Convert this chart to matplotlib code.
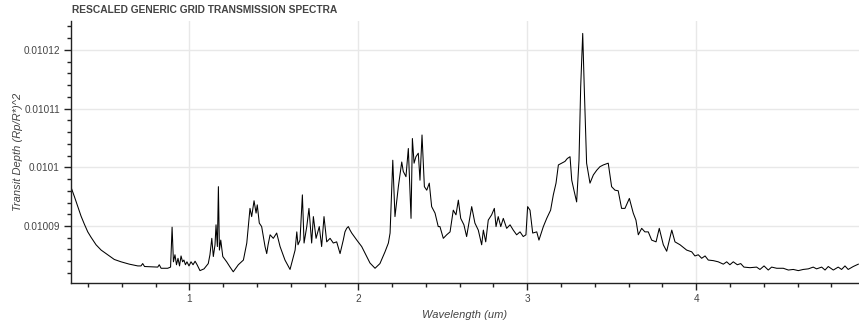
import matplotlib.pyplot as plt
from matplotlib.ticker import FixedLocator, MultipleLocator, FuncFormatter

plt.rcParams['font.family'] = ['Liberation Sans', 'DejaVu Sans']

# rescaled generic grid spectrum: wavelength (um) and transit depth (ppm)
wavelength = [
    0.300, 0.320, 0.340, 0.359, 0.379, 0.399, 0.418, 0.448, 0.478, 0.517,
    0.556, 0.596, 0.645, 0.695, 0.714, 0.724, 0.735, 0.813,
    0.822, 0.833, 0.872, 0.889, 0.898, 0.906, 0.915, 0.924, 0.933, 0.942,
    0.951, 0.960, 0.968, 0.977, 0.986, 0.998, 1.010, 1.022, 1.034, 1.046,
    1.063, 1.087, 1.112, 1.122, 1.133, 1.142, 1.152, 1.158, 1.166, 1.172,
    1.178, 1.186, 1.198, 1.221, 1.241, 1.260, 1.290, 1.320, 1.340, 1.359,
    1.369, 1.383, 1.395, 1.402, 1.414, 1.428, 1.436, 1.448, 1.458, 1.466,
    1.478, 1.497, 1.517, 1.537, 1.566, 1.596, 1.626, 1.636, 1.643, 1.655,
    1.669, 1.679, 1.695, 1.708, 1.724, 1.734, 1.750, 1.769, 1.783, 1.797,
    1.813, 1.833, 1.852, 1.872, 1.892, 1.911, 1.921, 1.931, 1.941, 1.951,
    1.961, 1.991, 2.020, 2.050, 2.069, 2.099, 2.128, 2.158, 2.178, 2.188,
    2.204, 2.217, 2.237, 2.257, 2.266, 2.282, 2.296, 2.312, 2.320, 2.330,
    2.341, 2.355, 2.365, 2.377, 2.391, 2.405, 2.420, 2.434, 2.454, 2.473,
    2.483, 2.503, 2.523, 2.543, 2.562, 2.578, 2.592, 2.606, 2.625, 2.641,
    2.671, 2.690, 2.710, 2.730, 2.740, 2.754, 2.769, 2.789, 2.805, 2.815,
    2.828, 2.843, 2.858, 2.878, 2.898, 2.917, 2.937, 2.957, 2.976, 2.992,
    3.002, 3.016, 3.032, 3.056, 3.069, 3.095, 3.115, 3.138, 3.154, 3.170,
    3.184, 3.204, 3.223, 3.237, 3.253, 3.263, 3.276, 3.292, 3.306, 3.316,
    3.328, 3.337, 3.351, 3.371, 3.391, 3.411, 3.430, 3.450, 3.479, 3.499,
    3.519, 3.538, 3.558, 3.578, 3.604, 3.627, 3.643, 3.657, 3.677, 3.696,
    3.716, 3.736, 3.762, 3.781, 3.805, 3.825, 3.855, 3.874, 3.904, 3.943,
    3.973, 3.992, 4.012, 4.032, 4.052, 4.071, 4.101, 4.130, 4.160, 4.180,
    4.199, 4.219, 4.243, 4.263, 4.282, 4.318, 4.357, 4.377, 4.401, 4.426,
    4.446, 4.476, 4.515, 4.545, 4.574, 4.604, 4.633, 4.663, 4.692, 4.712,
    4.742, 4.762, 4.781, 4.811, 4.840, 4.860, 4.880, 4.899, 4.929, 4.959,
]
depth_ppm = [
    10096.6, 10095.0, 10093.3, 10091.7, 10090.3, 10089.0, 10088.1, 10086.8, 10085.9, 10085.1,
    10084.3, 10083.9, 10083.5, 10083.2, 10083.2, 10083.6, 10083.1, 10083.0,
    10083.4, 10082.8, 10082.8, 10083.0, 10089.8, 10083.9, 10085.1, 10083.4, 10084.5, 10083.2,
    10084.9, 10083.9, 10084.2, 10083.4, 10083.9, 10083.2, 10083.9, 10083.4, 10084.0, 10083.4,
    10082.4, 10082.7, 10083.6, 10085.1, 10087.9, 10084.8, 10086.8, 10090.2, 10086.5, 10096.7,
    10085.9, 10087.6, 10084.8, 10083.9, 10083.0, 10082.2, 10083.4, 10084.2, 10087.1, 10093.0,
    10091.6, 10094.3, 10092.2, 10093.6, 10090.5, 10089.9, 10088.5, 10086.5, 10085.3, 10086.8,
    10088.5, 10087.9, 10088.8, 10086.5, 10084.2, 10082.6, 10085.9, 10089.0, 10086.8, 10087.6,
    10095.3, 10087.1, 10089.9, 10093.0, 10087.1, 10091.6, 10087.9, 10089.9, 10086.5, 10091.6,
    10087.3, 10087.9, 10087.1, 10087.3, 10085.3, 10087.6, 10089.0, 10089.6, 10089.9, 10089.3,
    10088.8, 10087.6, 10086.5, 10084.8, 10083.7, 10082.8, 10083.6, 10085.6, 10087.1, 10088.8,
    10101.2, 10091.6, 10096.7, 10100.9, 10099.3, 10098.4, 10103.2, 10091.3, 10104.9, 10100.7,
    10101.8, 10102.4, 10097.8, 10105.5, 10096.7, 10096.1, 10097.3, 10093.3, 10092.2, 10089.9,
    10089.9, 10087.9, 10088.5, 10089.0, 10092.7, 10091.9, 10094.4, 10091.3, 10090.2, 10088.2,
    10093.3, 10090.5, 10089.3, 10086.8, 10089.3, 10087.3, 10091.0, 10091.9, 10093.0, 10089.9,
    10091.6, 10089.9, 10091.3, 10089.6, 10090.2, 10089.3, 10088.5, 10089.0, 10088.2, 10088.5,
    10093.3, 10092.7, 10088.8, 10089.0, 10087.6, 10089.9, 10091.3, 10092.7, 10095.3, 10097.3,
    10100.4, 10100.7, 10101.0, 10101.5, 10101.8, 10097.8, 10096.1, 10094.1, 10101.2, 10113.7,
    10122.8, 10113.7, 10100.7, 10097.3, 10098.7, 10099.5, 10100.1, 10100.4, 10100.7, 10096.7,
    10096.1, 10096.0, 10093.0, 10093.0, 10094.7, 10092.2, 10091.0, 10088.5, 10089.6, 10089.0,
    10089.0, 10087.6, 10087.3, 10089.6, 10086.8, 10085.7, 10089.3, 10087.3, 10086.8, 10085.9,
    10085.6, 10084.9, 10085.1, 10084.5, 10084.9, 10084.2, 10084.1, 10083.9, 10083.5, 10083.9,
    10083.4, 10083.9, 10083.4, 10083.6, 10083.0, 10082.9, 10083.0, 10082.6, 10083.2, 10082.5,
    10083.0, 10082.8, 10082.8, 10082.5, 10082.6, 10082.4, 10082.6, 10082.7, 10083.0, 10082.7,
    10083.0, 10082.5, 10083.1, 10082.5, 10083.0, 10082.6, 10083.2, 10082.6, 10083.1, 10083.5,
]
depth = [v * 1e-6 for v in depth_ppm]

x_ticks = [1, 2, 3, 4]
y_ticks = [0.01009, 0.0101, 0.01011, 0.01012]

text_col = '#444444'

fig = plt.figure(figsize=(8.59, 3.23), dpi=100)
ax = fig.add_axes([0.0827, 0.1229, 0.9173, 0.8131])

ax.plot(wavelength, depth, color='black', lw=0.75)

ax.set_xlim(0.30, 4.963)
ax.set_ylim(0.01008024, 0.01012497)

ax.xaxis.set_major_locator(FixedLocator(x_ticks))
ax.xaxis.set_minor_locator(MultipleLocator(0.2))
ax.yaxis.set_major_locator(FixedLocator(y_ticks))
ax.yaxis.set_minor_locator(MultipleLocator(0.000002))
ax.xaxis.set_major_formatter(FuncFormatter(lambda v, p: '%g' % v))
ax.yaxis.set_major_formatter(FuncFormatter(lambda v, p: '%g' % round(v, 7)))

ax.grid(True, which='major', color='#e8e8e8', lw=1.0)
ax.set_axisbelow(True)

for side in ['top', 'right']:
    ax.spines[side].set_visible(False)
for side in ['left', 'bottom']:
    ax.spines[side].set_color('#222222')
    ax.spines[side].set_linewidth(1.0)

ax.tick_params(which='major', direction='out', length=5, width=1, color='#222222',
               labelsize=7.2, labelcolor=text_col, pad=3)
ax.tick_params(which='minor', direction='out', length=3, width=1, color='#222222')

ax.set_xlabel('Wavelength (um)', fontsize=8, style='italic', color=text_col, labelpad=4)
ax.set_ylabel('Transit Depth (Rp/R*)^2', fontsize=8, style='italic', color=text_col)
ax.yaxis.set_label_coords(-0.061, 0.5)

fig.text(0.0838, 0.968, 'RESCALED GENERIC GRID TRANSMISSION SPECTRA', fontsize=7.4,
         fontweight='bold', color=text_col, ha='left', va='center')

fig.savefig('out.png', dpi=100)
